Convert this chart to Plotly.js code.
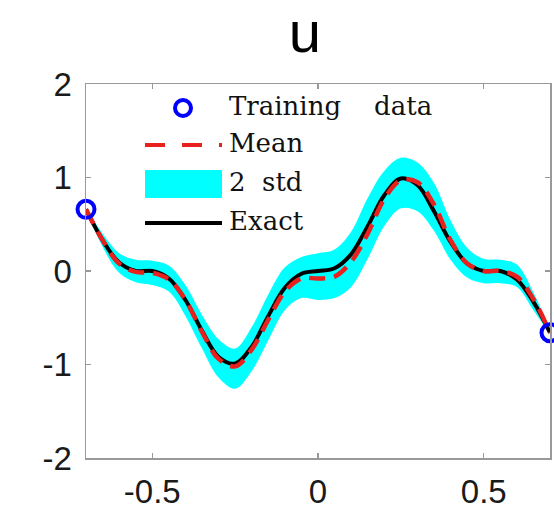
<!DOCTYPE html>
<html>
<head>
<meta charset="utf-8">
<script src="https://cdn.plot.ly/plotly-3.0.1.min.js"></script>
<style>html,body{margin:0;padding:0;background:#fff;}#chart{width:554px;height:511px;}</style>
</head>
<body>
<div id="chart"></div>
<script>
// ---- data ----
const xs = [-0.70,-0.65,-0.60,-0.55,-0.50,-0.45,-0.40,-0.35,-0.30,-0.25,-0.20,-0.15,-0.10,-0.05,0.00,
            0.05,0.10,0.15,0.20,0.25,0.30,0.35,0.40,0.45,0.50,0.55,0.60,0.65,0.70];
const exactU = [0.66,0.33,0.09,0.00,0.00,-0.08,-0.31,-0.64,-0.92,-0.99,-0.81,-0.48,-0.18,-0.03,0.00,
                0.03,0.18,0.48,0.81,0.99,0.92,0.64,0.31,0.08,0.00,0.00,-0.09,-0.33,-0.66];
const meanU = [0.66,0.33,0.08,-0.01,-0.02,-0.09,-0.31,-0.65,-0.94,-1.02,-0.84,-0.52,-0.22,-0.08,-0.08,
               -0.06,0.10,0.40,0.77,0.97,0.95,0.71,0.33,0.08,0.00,0.00,-0.06,-0.30,-0.66];
const upperU = [0.67,0.40,0.19,0.12,0.11,0.06,-0.15,-0.47,-0.73,-0.83,-0.60,-0.25,0.04,0.15,0.19,
                0.23,0.42,0.78,1.07,1.21,1.16,0.94,0.54,0.25,0.13,0.12,0.07,-0.23,-0.64];
const lowerU = [0.65,0.26,-0.02,-0.12,-0.15,-0.22,-0.48,-0.83,-1.14,-1.26,-1.07,-0.74,-0.42,-0.29,-0.31,
                -0.29,-0.17,0.13,0.48,0.67,0.64,0.43,0.12,-0.07,-0.13,-0.13,-0.17,-0.42,-0.68];
const trainX = [-0.70, 0.70];
const trainU = [0.66, -0.66];

const xTickVals = [-0.5, 0, 0.5];
const xTickText = ['-0.5', '0', '0.5'];
const yTickVals = [-2, -1, 0, 1, 2];
const yTickText = ['-2', '-1', '0', '1', '2'];

const legendLabels = ['Training\u00a0\u00a0\u00a0\u00a0data', 'Mean', '2\u00a0\u00a0std', 'Exact'];
const titleText = 'u';

// ---- layout helpers (pixel -> paper) ----
const L = 86, R = 550, T = 84, B = 458;
const xp = px => (px - L) / (R - L);
const yp = py => (B - py) / (B - T);

const traces = [
  {x: xs, y: lowerU, mode: 'lines', line: {width: 0, shape: 'spline', color: '#00ffff'},
   hoverinfo: 'skip', showlegend: false},
  {x: xs, y: upperU, mode: 'lines', fill: 'tonexty', fillcolor: '#00ffff',
   line: {width: 0, shape: 'spline', color: '#00ffff'}, showlegend: false, name: '2 std'},
  {x: xs, y: exactU, mode: 'lines', line: {color: '#000000', width: 4, shape: 'spline'},
   showlegend: false, name: 'Exact'},
  {x: xs, y: meanU, mode: 'lines', line: {color: '#e8201e', width: 4.5, dash: '16px,9px', shape: 'spline'},
   showlegend: false, name: 'Mean'},
  {x: trainX, y: trainU, mode: 'markers', cliponaxis: false,
   marker: {symbol: 'circle-open', size: 17, color: '#0000ff', line: {width: 4, color: '#0000ff'}},
   showlegend: false, name: 'Training data'}
];

const axisCommon = {
  showgrid: false, zeroline: false, showline: true, linecolor: '#999999', linewidth: 1.5,
  mirror: 'allticks', ticks: 'inside', ticklen: 5, tickcolor: '#999999', tickwidth: 1.2,
  tickfont: {family: 'Liberation Sans, Arial, sans-serif', size: 33, color: '#1a1a1a'},
  tickmode: 'array'
};

const rows = [108, 145, 184, 223];
const shapes = [
  {type: 'circle', xref: 'paper', yref: 'paper', x0: xp(175), x1: xp(191), y0: yp(116), y1: yp(100),
   line: {color: '#0000ff', width: 4}},
  {type: 'line', xref: 'paper', yref: 'paper', x0: xp(145), x1: xp(222), y0: yp(rows[1]), y1: yp(rows[1]),
   line: {color: '#e8201e', width: 4, dash: '20px,17px'}},
  {type: 'rect', xref: 'paper', yref: 'paper', x0: xp(145), x1: xp(222), y0: yp(198), y1: yp(170),
   fillcolor: '#00ffff', line: {width: 0}},
  {type: 'line', xref: 'paper', yref: 'paper', x0: xp(145), x1: xp(222), y0: yp(rows[3]), y1: yp(rows[3]),
   line: {color: '#000000', width: 4}}
];
const annotations = legendLabels.map((t, i) => ({
  text: t, xref: 'paper', yref: 'paper', x: xp(227), y: yp(rows[i] - 2), xanchor: 'left', yanchor: 'middle',
  showarrow: false, font: {family: 'DejaVu Serif, serif', size: 26, color: '#111'}
}));

const layout = {
  width: 554, height: 511,
  margin: {l: L, r: 554 - R, t: T, b: 511 - B, pad: 0},
  paper_bgcolor: '#ffffff', plot_bgcolor: '#ffffff',
  showlegend: false,
  title: {text: titleText, x: 305 / 554, xref: 'container', xanchor: 'center',
          y: 1 - 32 / 511, yref: 'container', yanchor: 'middle',
          font: {family: 'Liberation Sans, Arial, sans-serif', size: 58, color: '#000'}},
  xaxis: Object.assign({}, axisCommon, {range: [-0.7, 0.7], tickvals: xTickVals, ticktext: xTickText,
          ticklabelstandoff: 4}),
  yaxis: Object.assign({}, axisCommon, {range: [-2, 2], tickvals: yTickVals, ticktext: yTickText,
          ticklabelstandoff: 6}),
  shapes: shapes,
  annotations: annotations
};

Plotly.newPlot('chart', traces, layout, {displayModeBar: false, staticPlot: true});
</script>
</body>
</html>
